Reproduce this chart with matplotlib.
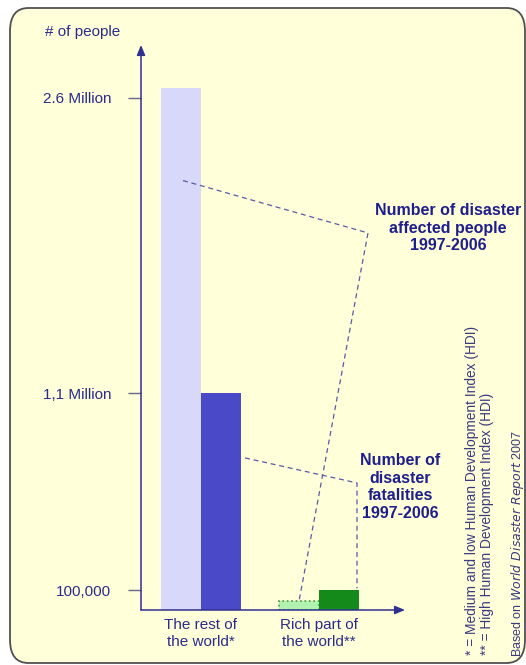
import numpy as np
import matplotlib as mpl
mpl.use("Agg")
import matplotlib.pyplot as plt
from matplotlib.patches import FancyBboxPatch

plt.rcParams['font.family'] = ['Liberation Sans', 'DejaVu Sans']

# data (people)
groups = ['The rest of\nthe world*', 'Rich part of\nthe world**']
affected = [2.65e6, 0.045e6]
fatalities = [1.1e6, 0.1e6]
tick_vals = [0.1e6, 1.1e6, 2.6e6]
tick_labels = ['100,000', '1,1 Million', '2.6 Million']

navy = '#2b2b8c'
W, H = 526, 665
fig = plt.figure(figsize=(W / 100, H / 100), dpi=100)
fig.patch.set_facecolor('white')

# rounded yellow panel, behind the axes
box = FancyBboxPatch((10 / W, 2 / H), 515 / W, 655 / H,
                     boxstyle="round,pad=0,rounding_size=0.035",
                     transform=fig.transFigure, facecolor='#ffffd9',
                     edgecolor='#505050', linewidth=1.3, zorder=-1)
fig.patches.append(box)

# axes: left edge at x=141px, baseline at y=610px, top at y=45px
ax = fig.add_axes([141 / W, (H - 610) / H, (W - 141) / W, (610 - 45) / H])
ax.set_facecolor('none')
ax.set_xlim(0, (W - 141) / 40)
ax.set_ylim(0, (610 - 45) / 197 * 1e6)
for s in ax.spines.values():
    s.set_visible(False)

centers = np.array([1.5, 4.45])
w = 1.0
ax.bar(centers - w / 2, affected, width=w, color=['#d8d8fa', '#b2f2b0'],
       edgecolor=['none', '#3aa03a'], linestyle=':', linewidth=1.2, zorder=2)
ax.bar(centers + w / 2, fatalities, width=w, color=['#4a4ac8', '#138a1a'],
       edgecolor='none', zorder=2)

# y ticks
ax.set_yticks(tick_vals)
ax.set_yticklabels(tick_labels, fontsize=11, color=navy)
ax.tick_params(axis='y', length=9.5, width=1, color='#666688', pad=12)
ax.set_xticks(centers)
ax.set_xticklabels(groups, fontsize=11, color=navy, linespacing=1.25)
ax.tick_params(axis='x', length=0, pad=6)

# axis arrows
ax.annotate('', xy=(0, 1.0), xytext=(0, 0), xycoords='axes fraction',
            arrowprops=dict(arrowstyle='-|>,head_length=0.6,head_width=0.25',
                            color='#303090', lw=1.1, shrinkA=0, shrinkB=0))
ax.annotate('', xy=(6.6, 0), xytext=(0, 0), xycoords='data',
            arrowprops=dict(arrowstyle='-|>,head_length=0.6,head_width=0.25',
                            color='#303090', lw=1.1, shrinkA=0, shrinkB=0))
fig.text(45 / W, 1 - 32 / H, '# of people', fontsize=11, color=navy,
         va='center', ha='left')

# leader lines
lc = '#5a5aa8'
ls = dict(color=lc, lw=0.9, linestyle=(0, (4, 3)), zorder=3)
x0 = centers[0] - w / 2
ax.plot([x0 + 0.05, 5.675, centers[1] - w / 2],
        [2.18e6, 1.914e6, affected[1]], **ls)
x1 = centers[0] + w / 2
ax.plot([x1 + 0.6, centers[1] + w / 2 + 0.45, centers[1] + w / 2 + 0.45],
        [0.772e6, 0.645e6, fatalities[1] + 0.01e6], **ls)

# callout labels
fig.text(448 / W, 1 - 228 / H, 'Number of disaster\naffected people\n1997-2006',
         fontsize=11.5, fontweight='bold', color='#1e1e8c', ha='center',
         va='center', linespacing=1.2)
fig.text(400 / W, 1 - 487 / H, 'Number of\ndisaster\nfatalities\n1997-2006',
         fontsize=11.5, fontweight='bold', color='#1e1e8c', ha='center',
         va='center', linespacing=1.2)

# footnotes (rotated)
fc = '#3a3a80'
fig.text(472 / W, 1 - 655 / H, '* = Medium and low Human Development Index (HDI)',
         rotation=90, fontsize=9.9, color=fc, ha='center', va='bottom')
fig.text(487 / W, 1 - 655 / H, '** = High Human Development Index (HDI)',
         rotation=90, fontsize=9.9, color=fc, ha='center', va='bottom')
fig.text(518 / W, 1 - 657 / H, r'Based on $\it{World\ Disaster\ Report}$ 2007',
         rotation=90, fontsize=9, color=fc, ha='center', va='bottom')

fig.savefig('out.png', dpi=100, facecolor='white')
